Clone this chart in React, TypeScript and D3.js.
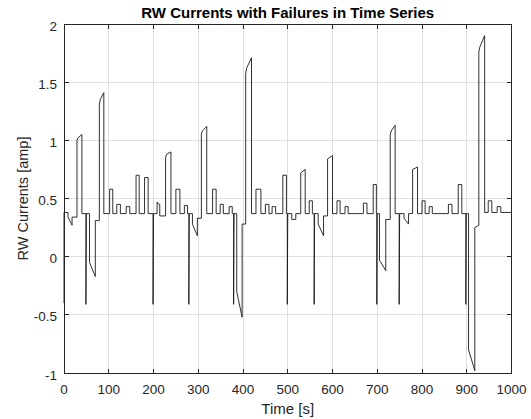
import React from "react";
import * as d3 from "d3";

// Reaction-wheel current trace: vertices of the piecewise signal (time in s, current in amp)
const TIME_S: number[] = [
  0, 0, 9, 9, 18, 18, 29, 29, 31, 40, 40, 49, 49, 50, 57, 57, 70, 70, 79, 79, 81, 89, 89,
  102, 102, 109, 109, 118, 118, 126, 126, 139, 139, 147, 147, 161, 161, 168, 168, 180, 180, 188, 188,
  199, 199, 200, 208, 208, 212, 214, 214, 227, 227, 229, 239, 239, 250, 250, 259, 259, 269, 269, 276, 276,
  279, 279, 280, 287, 287, 298, 298, 307, 307, 309, 319, 319,
  332, 332, 340, 340, 349, 349, 356, 356, 369, 369, 376, 376, 379, 379, 380, 386, 386, 398, 398, 406, 406, 408, 419, 419,
  429, 429, 440, 440, 450, 450, 458, 458, 465, 465, 473, 473, 489, 489, 497, 497,
  499, 499, 500, 509, 509, 518, 518, 529, 529, 539, 539, 548, 548, 555, 555, 559, 559, 560, 568, 568, 580, 580, 589, 589, 600, 600,
  610, 610, 617, 617, 628, 628, 635, 635, 669, 669, 677, 677, 691, 691, 698, 698,
  699, 699, 700, 705, 705, 719, 719, 729, 729, 731, 740, 740, 749, 749, 750, 760, 760, 770, 770, 779, 779, 790, 790,
  800, 800, 807, 807, 816, 816, 823, 823, 859, 859, 867, 867, 881, 881, 889, 889,
  898, 898, 899, 904, 904, 918, 918, 927, 927, 929, 940, 940, 948, 948, 956, 956, 968, 968, 976, 976, 1000,
];

const CURRENT_A: number[] = [
  -0.4, 0.38, 0.38, 0.34, 0.27, 0.34, 0.34, 1.0, 1.02, 1.05, 0.37, 0.37, -0.41, 0.37, 0.37, -0.05, -0.17, 0.31, 0.31, 1.31, 1.35, 1.41, 0.37,
  0.37, 0.58, 0.58, 0.37, 0.37, 0.45, 0.45, 0.37, 0.37, 0.43, 0.43, 0.37, 0.37, 0.7, 0.7, 0.37, 0.37, 0.68, 0.68, 0.37,
  0.37, -0.41, 0.37, 0.37, 0.47, 0.45, 0.45, 0.35, 0.35, 0.85, 0.88, 0.9, 0.37, 0.37, 0.58, 0.58, 0.37, 0.37, 0.44, 0.44, 0.37,
  0.37, -0.41, 0.37, 0.37, 0.28, 0.18, 0.33, 0.33, 1.05, 1.08, 1.12, 0.37,
  0.37, 0.58, 0.58, 0.37, 0.37, 0.45, 0.45, 0.37, 0.37, 0.43, 0.43, 0.37, 0.37, -0.41, 0.37, 0.37, -0.3, -0.52, 0.28, 0.28, 1.57, 1.62, 1.71, 0.37,
  0.37, 0.58, 0.58, 0.37, 0.37, 0.45, 0.45, 0.37, 0.37, 0.43, 0.43, 0.37, 0.37, 0.7, 0.7, 0.37,
  0.37, -0.41, 0.37, 0.37, 0.32, 0.32, 0.37, 0.37, 0.72, 0.75, 0.37, 0.37, 0.48, 0.48, 0.37, 0.37, -0.41, 0.37, 0.37, 0.28, 0.18, 0.35, 0.35, 0.84, 0.87, 0.37,
  0.37, 0.48, 0.48, 0.37, 0.37, 0.43, 0.43, 0.37, 0.37, 0.46, 0.46, 0.37, 0.37, 0.62, 0.62, 0.37,
  0.37, -0.41, 0.37, 0.37, -0.03, -0.12, 0.32, 0.32, 1.05, 1.08, 1.13, 0.37, 0.37, -0.41, 0.37, 0.37, 0.33, 0.28, 0.37, 0.37, 0.75, 0.77, 0.37,
  0.37, 0.48, 0.48, 0.37, 0.37, 0.43, 0.43, 0.37, 0.37, 0.45, 0.45, 0.37, 0.37, 0.62, 0.62, 0.37,
  0.37, -0.41, 0.37, 0.37, -0.8, -0.98, 0.25, 0.27, 1.76, 1.8, 1.9, 0.38, 0.38, 0.48, 0.48, 0.38, 0.38, 0.43, 0.43, 0.38, 0.38,
];

const X_TICKS: number[] = [0, 100, 200, 300, 400, 500, 600, 700, 800, 900, 1000];
const Y_TICKS: number[] = [-1, -0.5, 0, 0.5, 1, 1.5, 2];

const TITLE = "RW Currents with Failures in Time Series";
const X_LABEL = "Time [s]";
const Y_LABEL = "RW Currents [amp]";

const W = 531;
const H = 419;
const M = { left: 64, right: 19.5, top: 24, bottom: 46 };
const AXIS_COLOR = "#262626";
const GRID_COLOR = "#dfdfdf";
const FONT = "'Liberation Sans', Arial, Helvetica, sans-serif";
const TICK_LEN = 4.5;

export default function App() {
  const x = d3.scaleLinear().domain([0, 1000]).range([M.left, W - M.right]);
  const y = d3.scaleLinear().domain([-1, 2]).range([H - M.bottom, M.top]);

  const points: [number, number][] = TIME_S.map((t, i) => [t, CURRENT_A[i]]);
  const line = d3
    .line<[number, number]>()
    .x((d) => x(d[0]))
    .y((d) => y(d[1]));

  const x0 = x(0);
  const x1 = x(1000);
  const yTop = y(2);
  const yBot = y(-1);

  const fmt = (v: number) => (v < 0 ? "-" + String(Math.abs(v)) : String(v));

  return (
    <div style={{ position: "absolute", left: 0, top: 0 }}>
      <svg width={W} height={H} style={{ display: "block", background: "#ffffff" }}>
        <rect x={0} y={0} width={W} height={H} fill="#ffffff" />
        {/* grid */}
        <g shapeRendering="crispEdges">
          {X_TICKS.slice(1, -1).map((t) => (
            <line key={"gx" + t} x1={x(t)} x2={x(t)} y1={yTop} y2={yBot} stroke={GRID_COLOR} strokeWidth={1} />
          ))}
          {Y_TICKS.slice(1, -1).map((v) => (
            <line key={"gy" + v} x1={x0} x2={x1} y1={y(v)} y2={y(v)} stroke={GRID_COLOR} strokeWidth={1} />
          ))}
        </g>
        {/* signal */}
        <path d={line(points) ?? ""} fill="none" stroke="#1a1a1a" strokeWidth={0.9} strokeLinejoin="round" />
        {/* box and ticks */}
        <g shapeRendering="crispEdges" stroke={AXIS_COLOR} strokeWidth={1}>
          <rect x={x0} y={yTop} width={x1 - x0} height={yBot - yTop} fill="none" />
          {X_TICKS.map((t) => (
            <g key={"tx" + t}>
              <line x1={x(t)} x2={x(t)} y1={yBot} y2={yBot - TICK_LEN} />
              <line x1={x(t)} x2={x(t)} y1={yTop} y2={yTop + TICK_LEN} />
            </g>
          ))}
          {Y_TICKS.map((v) => (
            <g key={"ty" + v}>
              <line x1={x0} x2={x0 + TICK_LEN} y1={y(v)} y2={y(v)} />
              <line x1={x1} x2={x1 - TICK_LEN} y1={y(v)} y2={y(v)} />
            </g>
          ))}
        </g>
        {/* tick labels */}
        <g fontFamily={FONT} fontSize={13.5} fill={AXIS_COLOR}>
          {X_TICKS.map((t) => (
            <text key={"lx" + t} x={x(t)} y={yBot + 21} textAnchor="middle">
              {fmt(t)}
            </text>
          ))}
          {Y_TICKS.map((v) => (
            <text key={"ly" + v} x={x0 - 7} y={y(v) + 6.5} textAnchor="end">
              {fmt(v)}
            </text>
          ))}
        </g>
        {/* axis labels and title */}
        <text x={(x0 + x1) / 2} y={414} textAnchor="middle" fontFamily={FONT} fontSize={15} fill={AXIS_COLOR}>
          {X_LABEL}
        </text>
        <text
          transform={`translate(${28},${(yTop + yBot) / 2}) rotate(-90)`}
          textAnchor="middle"
          fontFamily={FONT}
          fontSize={14.5}
          fill={AXIS_COLOR}
        >
          {Y_LABEL}
        </text>
        <text x={(x0 + x1) / 2} y={18} textAnchor="middle" fontFamily={FONT} fontSize={15} fontWeight="bold" fill="#000000">
          {TITLE}
        </text>
      </svg>
    </div>
  );
}
